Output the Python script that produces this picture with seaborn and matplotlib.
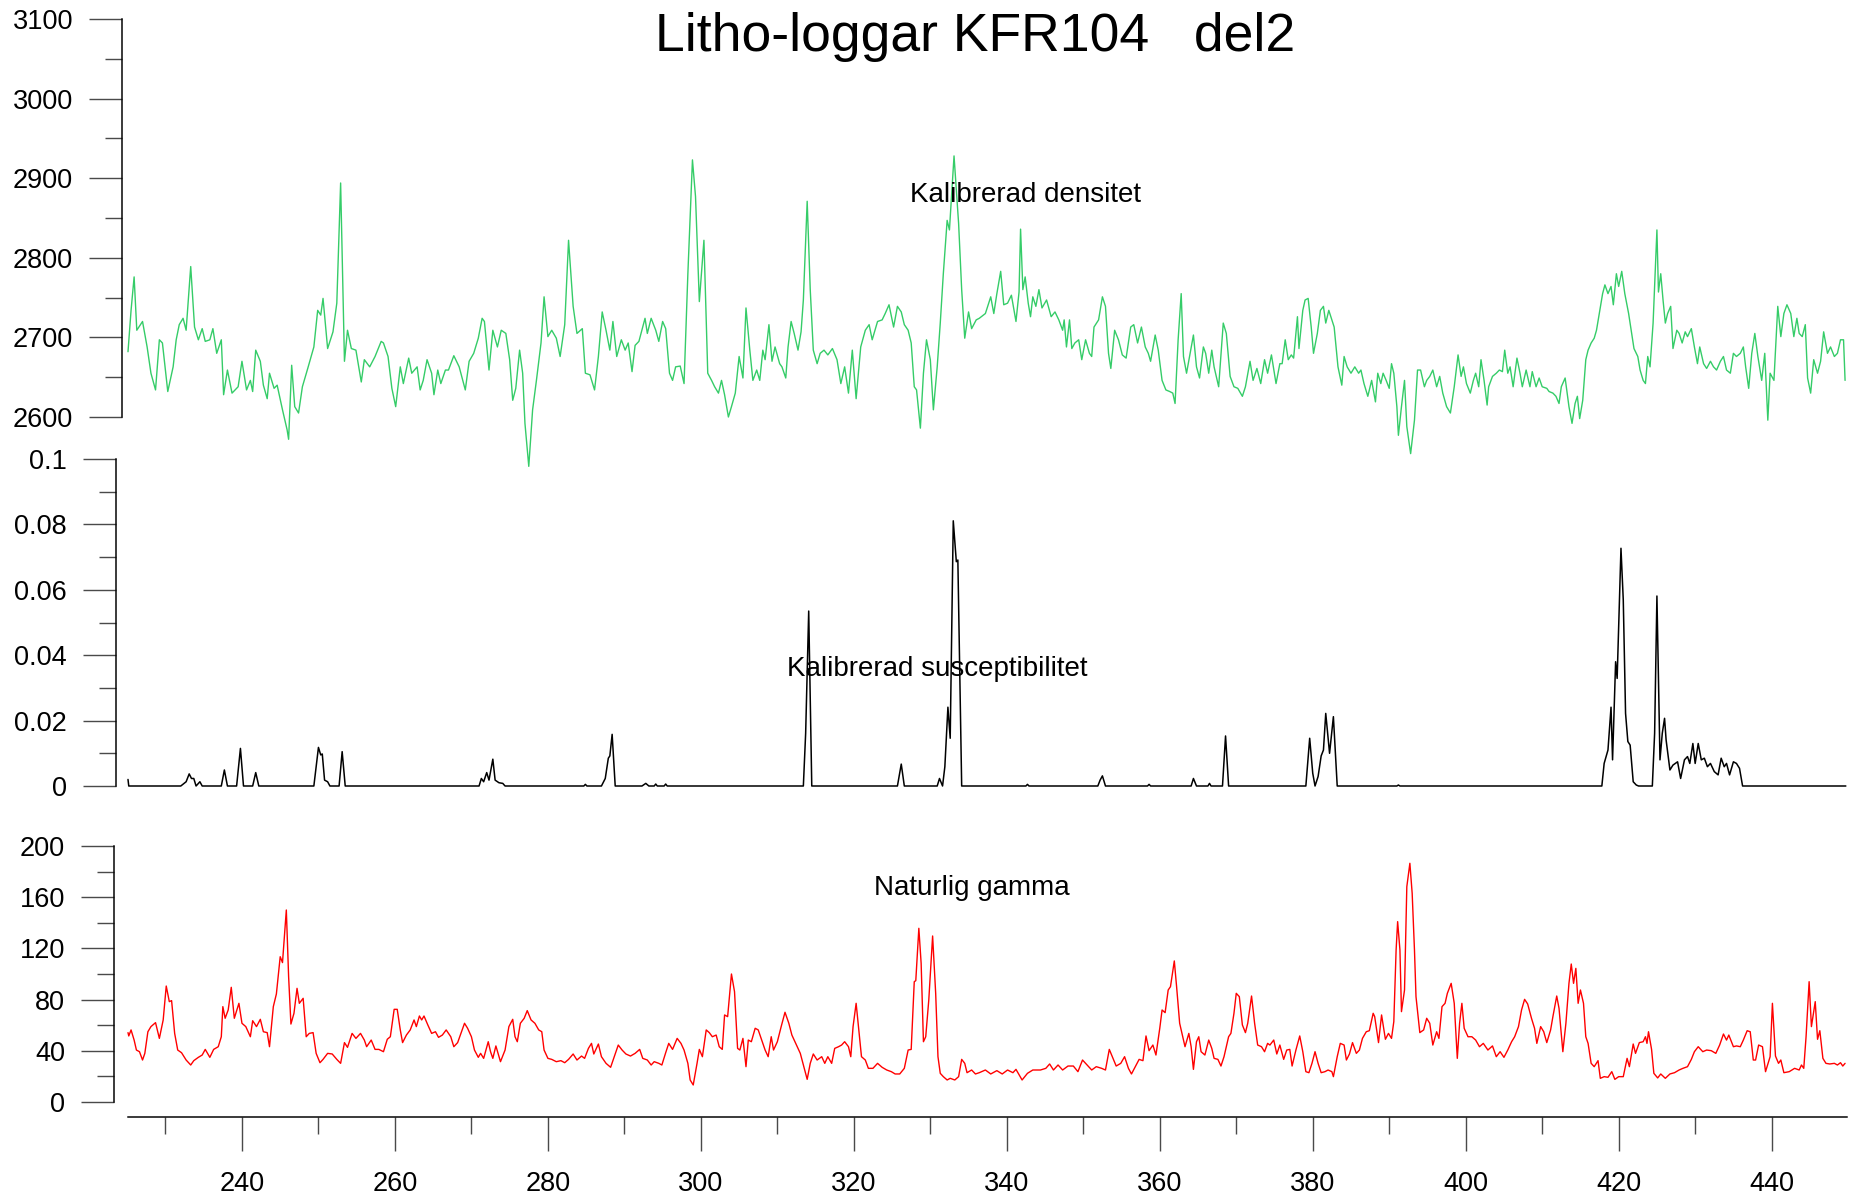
import matplotlib
matplotlib.use("Agg")
import matplotlib.pyplot as plt
from matplotlib import font_manager
import seaborn as sns
import pandas as pd
from matplotlib.ticker import FixedLocator

# ---------------------------------------------------------------- data
dens_depth = [
    225.1, 225.5, 225.9, 226.25, 227.0, 227.6, 228.1, 228.7, 229.2, 229.6, 230.3, 231.0, 231.4, 231.8,
    232.3, 232.7, 233.3, 233.8, 234.3, 234.8, 235.2, 235.8, 236.2, 236.7, 237.3, 237.6, 238.1, 238.7,
    239.5, 240.0, 240.6, 241.1, 241.4, 241.8, 242.4, 242.8, 243.3, 243.6, 244.2, 244.6, 245.3, 245.9,
    246.1, 246.5, 246.9, 247.4, 247.9, 248.6, 249.4, 249.9, 250.3, 250.6, 251.2, 251.9, 252.4, 252.9,
    253.4, 253.8, 254.3, 254.9, 255.6, 256.0, 256.7, 257.4, 258.2, 258.5, 259.1, 259.6, 260.1, 260.7,
    261.1, 261.8, 262.2, 262.9, 263.3, 263.7, 264.2, 264.8, 265.1, 265.6, 266.0, 266.6, 267.0, 267.7,
    268.4, 269.2, 269.7, 270.3, 270.9, 271.4, 271.7, 272.3, 272.8, 273.4, 273.9, 274.5, 275.0, 275.4,
    275.8, 276.3, 276.7, 277.0, 277.5, 278.0, 278.5, 279.1, 279.5, 280.0, 280.5, 281.1, 281.6, 282.2,
    282.7, 283.3, 283.8, 284.5, 284.9, 285.5, 286.1, 286.6, 287.1, 287.6, 288.1, 288.5, 289.0, 289.6,
    290.1, 290.5, 291.0, 291.4, 291.9, 292.7, 293.0, 293.5, 294.1, 294.5, 295.0, 295.4, 295.9, 296.3,
    296.7, 297.3, 297.8, 298.3, 298.9, 299.3, 299.8, 300.4, 300.9, 301.4, 301.8, 302.3, 302.7, 303.1,
    303.6, 304.0, 304.5, 305.0, 305.5, 305.9, 306.4, 306.8, 307.3, 307.7, 308.1, 308.4, 308.9, 309.3,
    309.7, 310.3, 310.6, 311.1, 311.4, 311.8, 312.2, 312.7, 313.1, 313.4, 313.9, 314.3, 314.7, 315.2,
    315.6, 316.1, 316.6, 317.2, 317.8, 318.3, 318.8, 319.3, 319.8, 320.3, 320.9, 321.5, 322.0, 322.4,
    323.1, 323.7, 324.1, 324.6, 325.2, 325.7, 326.2, 326.6, 327.1, 327.5, 327.9, 328.2, 328.7, 329.1,
    329.5, 330.0, 330.4, 330.9, 331.3, 331.7, 332.2, 332.5, 333.1, 333.7, 334.1, 334.5, 335.0, 335.4,
    336.0, 336.4, 337.2, 337.9, 338.3, 338.7, 339.2, 339.6, 340.1, 340.6, 341.2, 341.6, 341.8, 342.1,
    342.4, 342.8, 343.1, 343.4, 343.8, 344.2, 344.6, 345.2, 345.8, 346.3, 346.8, 347.3, 347.5, 347.8,
    348.2, 348.5, 348.9, 349.4, 349.8, 350.3, 350.8, 351.1, 351.4, 352.0, 352.5, 352.9, 353.3, 353.6,
    354.1, 354.6, 355.1, 355.6, 356.2, 356.6, 357.1, 357.6, 358.1, 358.5, 358.8, 359.4, 359.8, 360.3,
    360.8, 361.3, 361.7, 362.0, 362.4, 362.8, 363.1, 363.5, 363.9, 364.4, 364.8, 365.2, 365.7, 366.0,
    366.4, 366.8, 367.1, 367.7, 368.3, 368.7, 369.2, 369.7, 370.2, 370.8, 371.2, 371.8, 372.2, 372.7,
    373.2, 373.7, 374.1, 374.6, 375.2, 375.7, 376.0, 376.4, 376.8, 377.2, 377.5, 378.0, 378.2, 378.7,
    379.0, 379.4, 379.8, 380.1, 380.6, 381.0, 381.4, 381.7, 382.1, 382.5, 382.8, 383.3, 383.8, 384.1,
    384.5, 385.0, 385.5, 386.0, 386.3, 386.7, 387.2, 387.7, 388.2, 388.5, 388.9, 389.2, 389.6, 390.0,
    390.3, 390.6, 391.0, 391.2, 391.6, 392.0, 392.3, 392.8, 393.3, 393.7, 394.1, 394.6, 394.9, 395.3,
    395.7, 396.2, 396.6, 397.0, 397.5, 398.0, 398.5, 399.0, 399.4, 399.7, 400.1, 400.6, 401.0, 401.3,
    401.7, 402.0, 402.4, 402.8, 403.0, 403.5, 404.0, 404.4, 404.8, 405.1, 405.5, 405.8, 406.2, 406.7,
    407.1, 407.4, 407.9, 408.4, 408.7, 409.2, 409.6, 410.0, 410.6, 410.9, 411.4, 411.8, 412.2, 412.5,
    413.0, 413.5, 413.9, 414.3, 414.6, 414.9, 415.3, 415.7, 416.0, 416.4, 416.8, 417.1, 417.5, 417.9,
    418.2, 418.6, 419.0, 419.3, 419.7, 420.0, 420.4, 420.8, 421.3, 421.7, 422.0, 422.5, 422.8, 423.2,
    423.5, 423.8, 424.1, 424.5, 425.0, 425.2, 425.5, 425.8, 426.1, 426.4, 426.8, 427.1, 427.6, 427.9,
    428.3, 428.7, 429.0, 429.5, 429.9, 430.3, 430.6, 431.1, 431.5, 432.0, 432.4, 432.8, 433.3, 433.7,
    434.1, 434.6, 435.0, 435.4, 435.9, 436.3, 436.6, 437.0, 437.4, 437.8, 438.2, 438.7, 439.1, 439.5,
    439.8, 440.3, 440.8, 441.2, 441.6, 442.0, 442.5, 442.9, 443.3, 443.6, 444.0, 444.4, 444.7, 445.1,
    445.5, 446.0, 446.4, 446.8, 447.3, 447.7, 448.2, 448.6, 449.0, 449.4, 449.6,
]
dens_value = [
    2682, 2734, 2776, 2709, 2720, 2688, 2655, 2634, 2697, 2693, 2632, 2663, 2697, 2716,
    2724, 2709, 2789, 2713, 2697, 2711, 2695, 2697, 2711, 2680, 2697, 2628, 2659, 2630,
    2638, 2670, 2634, 2646, 2632, 2684, 2670, 2640, 2623, 2655, 2636, 2640, 2609, 2584,
    2572, 2665, 2613, 2605, 2638, 2661, 2688, 2734, 2728, 2749, 2686, 2707, 2743, 2894,
    2670, 2709, 2686, 2684, 2644, 2672, 2663, 2676, 2695, 2693, 2676, 2636, 2613, 2663,
    2642, 2674, 2655, 2663, 2634, 2646, 2672, 2655, 2628, 2659, 2642, 2659, 2659, 2677,
    2663, 2634, 2670, 2680, 2699, 2724, 2720, 2659, 2709, 2688, 2709, 2705, 2672, 2621,
    2636, 2684, 2655, 2592, 2538, 2609, 2646, 2693, 2751, 2701, 2709, 2699, 2676, 2716,
    2822, 2739, 2705, 2711, 2655, 2653, 2634, 2676, 2732, 2709, 2684, 2720, 2676, 2697,
    2684, 2693, 2657, 2690, 2695, 2724, 2705, 2724, 2709, 2695, 2720, 2711, 2655, 2646,
    2663, 2664, 2642, 2780, 2923, 2877, 2745, 2822, 2655, 2646, 2638, 2630, 2646, 2628,
    2600, 2613, 2630, 2676, 2649, 2737, 2684, 2646, 2659, 2646, 2684, 2672, 2716, 2670,
    2688, 2667, 2663, 2649, 2688, 2720, 2705, 2684, 2707, 2747, 2871, 2760, 2684, 2667,
    2680, 2684, 2678, 2686, 2672, 2642, 2663, 2630, 2684, 2623, 2688, 2709, 2716, 2697,
    2720, 2722, 2730, 2741, 2713, 2739, 2732, 2716, 2709, 2693, 2638, 2634, 2586, 2655,
    2697, 2672, 2609, 2663, 2718, 2780, 2847, 2835, 2928, 2843, 2760, 2699, 2732, 2711,
    2722, 2724, 2730, 2751, 2730, 2755, 2783, 2741, 2743, 2753, 2720, 2757, 2836, 2760,
    2776, 2743, 2726, 2751, 2739, 2760, 2737, 2747, 2726, 2732, 2722, 2709, 2722, 2688,
    2722, 2686, 2693, 2697, 2672, 2697, 2680, 2676, 2713, 2722, 2751, 2739, 2680, 2661,
    2709, 2697, 2678, 2674, 2713, 2716, 2693, 2713, 2688, 2680, 2670, 2703, 2684, 2646,
    2634, 2632, 2630, 2617, 2697, 2755, 2676, 2655, 2676, 2703, 2663, 2649, 2688, 2680,
    2655, 2684, 2663, 2638, 2718, 2705, 2651, 2638, 2636, 2626, 2638, 2670, 2646, 2661,
    2642, 2672, 2655, 2678, 2642, 2667, 2667, 2697, 2672, 2678, 2674, 2726, 2686, 2734,
    2747, 2749, 2713, 2680, 2705, 2734, 2739, 2718, 2734, 2722, 2713, 2663, 2640, 2676,
    2663, 2655, 2663, 2655, 2659, 2642, 2626, 2646, 2619, 2655, 2642, 2655, 2646, 2636,
    2667, 2655, 2613, 2577, 2613, 2646, 2588, 2554, 2596, 2659, 2659, 2638, 2646, 2651,
    2659, 2638, 2651, 2630, 2613, 2605, 2638, 2678, 2651, 2663, 2642, 2630, 2646, 2655,
    2638, 2672, 2646, 2615, 2638, 2651, 2655, 2659, 2657, 2684, 2655, 2663, 2638, 2674,
    2655, 2638, 2659, 2638, 2657, 2638, 2649, 2638, 2636, 2632, 2630, 2626, 2617, 2638,
    2649, 2613, 2592, 2617, 2626, 2598, 2621, 2672, 2684, 2693, 2699, 2709, 2732, 2755,
    2766, 2755, 2764, 2741, 2780, 2764, 2783, 2755, 2730, 2705, 2686, 2676, 2659, 2646,
    2642, 2676, 2663, 2718, 2835, 2757, 2780, 2747, 2718, 2730, 2739, 2686, 2709, 2705,
    2693, 2707, 2701, 2711, 2688, 2667, 2688, 2667, 2661, 2670, 2663, 2659, 2670, 2676,
    2659, 2655, 2680, 2676, 2680, 2688, 2663, 2636, 2680, 2705, 2676, 2646, 2680, 2596,
    2655, 2646, 2739, 2701, 2730, 2741, 2730, 2701, 2724, 2705, 2701, 2716, 2649, 2630,
    2672, 2655, 2670, 2707, 2680, 2688, 2676, 2680, 2697, 2697, 2646,
]

susc_depth = [
    225.1, 225.2, 232.0, 232.7, 233.1, 233.4, 233.7, 234.0, 234.5, 234.8, 237.3, 237.7, 238.1,
    239.3, 239.8, 240.2, 241.4, 241.8, 242.2, 249.4, 249.7, 250.0, 250.3, 250.5, 250.8, 251.2,
    251.5, 252.7, 253.1, 253.5, 271.0, 271.3, 271.6, 272.0, 272.3, 272.8, 273.1, 273.6, 274.1,
    274.4, 284.7, 284.9, 285.1, 287.0, 287.5, 287.9, 288.1, 288.4, 288.8, 292.3, 292.8, 293.2,
    293.9, 294.1, 294.3, 295.2, 295.4, 295.6, 313.4, 313.7, 314.1, 314.3, 314.5, 325.7, 326.2,
    326.6, 330.9, 331.2, 331.6, 331.9, 332.3, 332.6, 333.0, 333.4, 333.6, 334.1, 342.5, 342.7,
    342.9, 351.9, 352.2, 352.5, 352.9, 358.4, 358.6, 358.8, 364.1, 364.4, 364.8, 366.3, 366.5,
    366.7, 368.2, 368.6, 369.0, 379.1, 379.6, 380.0, 380.3, 380.7, 381.1, 381.4, 381.7, 382.2,
    382.7, 383.2, 391.0, 391.2, 391.4, 417.8, 418.1, 418.6, 419.0, 419.2, 419.6, 419.8, 420.3,
    420.6, 420.9, 421.2, 421.5, 421.9, 422.3, 422.6, 424.4, 424.7, 425.0, 425.4, 425.7, 426.0,
    426.2, 426.7, 427.1, 427.7, 428.1, 428.6, 429.0, 429.3, 429.7, 430.0, 430.4, 430.8, 431.2,
    431.6, 432.0, 432.5, 433.0, 433.4, 433.8, 434.1, 434.5, 435.0, 435.4, 435.8, 436.2, 449.7,
]
susc_value = [
    0.002, 0.0, 0.0, 0.0013, 0.0037, 0.0023, 0.0023, 0.0, 0.0013, 0.0, 0.0, 0.0049, 0.0,
    0.0, 0.0115, 0.0, 0.0, 0.0041, 0.0, 0.0, 0.0059, 0.0118, 0.0095, 0.0098, 0.0018, 0.0013,
    0.0, 0.0, 0.0105, 0.0, 0.0, 0.0023, 0.0013, 0.0041, 0.0018, 0.0082, 0.0018, 0.001, 0.0008,
    0.0, 0.0, 0.0005, 0.0, 0.0, 0.0023, 0.0085, 0.0092, 0.0158, 0.0, 0.0, 0.0008, 0.0,
    0.0, 0.0006, 0.0, 0.0, 0.0006, 0.0, 0.0, 0.0161, 0.0535, 0.0263, 0.0, 0.0, 0.0067,
    0.0, 0.0, 0.0023, 0.0, 0.0059, 0.0241, 0.0146, 0.0811, 0.0686, 0.0691, 0.0, 0.0, 0.0005,
    0.0, 0.0, 0.0018, 0.0031, 0.0, 0.0, 0.0005, 0.0, 0.0, 0.0023, 0.0, 0.0, 0.0008,
    0.0, 0.0, 0.0153, 0.0, 0.0, 0.0146, 0.0039, 0.0, 0.0029, 0.0092, 0.011, 0.0222, 0.010,
    0.0212, 0.0, 0.0, 0.0003, 0.0, 0.0, 0.0069, 0.011, 0.0241, 0.008, 0.038, 0.0329, 0.0727,
    0.0569, 0.0222, 0.0136, 0.0125, 0.0013, 0.0003, 0.0, 0.0, 0.0161, 0.0581, 0.008, 0.0161, 0.0207,
    0.0141, 0.0049, 0.0064, 0.0074, 0.0023, 0.008, 0.009, 0.0069, 0.013, 0.0069, 0.013, 0.008, 0.0085,
    0.0059, 0.0069, 0.0044, 0.0034, 0.0085, 0.0059, 0.0069, 0.0034, 0.0074, 0.0069, 0.0054, 0.0, 0.0,
]

gamma_depth = [
    225.1, 225.2, 225.5, 225.9, 226.2, 226.6, 227.0, 227.3, 227.7, 228.1, 228.7, 229.2, 229.7, 230.1,
    230.5, 230.8, 231.2, 231.6, 232.1, 232.7, 233.3, 233.7, 234.3, 234.8, 235.2, 235.8, 236.3, 236.9,
    237.3, 237.5, 237.8, 238.2, 238.6, 239.0, 239.6, 240.0, 240.5, 241.1, 241.4, 241.9, 242.4, 242.8,
    243.3, 243.6, 244.1, 244.5, 245.0, 245.3, 245.8, 246.1, 246.4, 246.8, 247.2, 247.5, 248.0, 248.4,
    248.8, 249.3, 249.7, 250.2, 250.6, 251.2, 251.8, 252.4, 252.9, 253.4, 253.8, 254.4, 254.9, 255.5,
    256.0, 256.3, 256.9, 257.4, 257.9, 258.5, 259.0, 259.4, 259.9, 260.3, 260.7, 261.0, 261.5, 262.0,
    262.5, 262.8, 263.2, 263.5, 263.8, 264.3, 264.8, 265.3, 265.7, 266.2, 266.7, 267.3, 267.7, 268.2,
    268.7, 269.1, 269.5, 270.0, 270.4, 270.9, 271.2, 271.6, 272.2, 272.5, 272.8, 273.2, 273.8, 274.4,
    274.9, 275.4, 275.7, 276.0, 276.4, 276.9, 277.3, 277.8, 278.3, 278.8, 279.2, 279.5, 280.0, 280.5,
    281.1, 281.7, 282.2, 282.7, 283.3, 283.8, 284.4, 284.8, 285.3, 285.7, 286.0, 286.6, 287.0, 287.6,
    288.2, 288.6, 289.2, 289.7, 290.2, 290.8, 291.4, 292.0, 292.4, 293.0, 293.5, 293.9, 294.5, 294.9,
    295.4, 295.8, 296.3, 296.9, 297.4, 297.8, 298.3, 298.6, 299.0, 299.5, 299.8, 300.2, 300.7, 301.1,
    301.5, 302.0, 302.4, 302.8, 303.1, 303.5, 304.0, 304.4, 304.8, 305.1, 305.5, 305.9, 306.2, 306.6,
    307.1, 307.5, 308.1, 308.4, 308.8, 309.2, 309.5, 310.0, 310.5, 311.0, 311.5, 311.9, 312.5, 313.0,
    313.4, 313.9, 314.3, 314.7, 315.2, 315.8, 316.2, 316.6, 317.1, 317.5, 318.0, 318.4, 318.8, 319.3,
    319.6, 319.9, 320.3, 320.7, 321.0, 321.5, 321.9, 322.5, 323.1, 323.7, 324.3, 324.9, 325.4, 326.0,
    326.6, 327.1, 327.5, 327.9, 328.1, 328.5, 328.8, 329.1, 329.4, 329.8, 330.3, 330.7, 331.0, 331.3,
    331.7, 332.2, 332.6, 333.2, 333.7, 334.1, 334.5, 334.8, 335.4, 335.9, 336.4, 337.2, 337.9, 338.7,
    339.4, 340.1, 340.8, 341.2, 342.0, 342.7, 343.4, 344.4, 345.1, 345.6, 346.1, 346.7, 347.3, 348.0,
    348.7, 349.3, 349.9, 350.5, 351.1, 351.7, 352.4, 352.9, 353.4, 353.8, 354.3, 354.9, 355.4, 355.9,
    356.3, 356.8, 357.3, 357.8, 358.2, 358.6, 359.1, 359.5, 360.0, 360.3, 360.7, 361.1, 361.4, 361.9,
    362.2, 362.6, 363.0, 363.3, 363.8, 364.1, 364.4, 364.8, 365.1, 365.4, 365.9, 366.4, 366.8, 367.1,
    367.6, 368.0, 368.4, 369.0, 369.3, 369.7, 370.0, 370.4, 370.8, 371.2, 371.5, 372.0, 372.4, 372.8,
    373.3, 373.7, 374.1, 374.4, 374.9, 375.3, 375.7, 376.2, 376.6, 377.0, 377.3, 377.8, 378.3, 378.7,
    379.1, 379.5, 379.9, 380.3, 380.7, 381.1, 381.6, 382.0, 382.5, 382.7, 383.2, 383.6, 384.1, 384.4,
    384.8, 385.2, 385.7, 386.1, 386.5, 387.0, 387.4, 387.9, 388.1, 388.6, 389.0, 389.5, 389.9, 390.3,
    390.6, 390.9, 391.1, 391.4, 391.6, 392.0, 392.3, 392.7, 393.0, 393.3, 393.5, 394.0, 394.5, 394.9,
    395.3, 395.7, 396.2, 396.5, 396.9, 397.3, 397.6, 398.1, 398.5, 398.9, 399.2, 399.5, 399.8, 400.3,
    400.8, 401.3, 401.8, 402.3, 402.9, 403.5, 404.0, 404.5, 405.0, 405.5, 406.0, 406.4, 406.9, 407.3,
    407.7, 408.1, 408.6, 409.0, 409.3, 409.8, 410.2, 410.6, 411.1, 411.4, 411.9, 412.2, 412.7, 413.1,
    413.5, 413.8, 414.1, 414.4, 414.7, 415.0, 415.4, 415.7, 416.0, 416.4, 416.8, 417.3, 417.6, 418.1,
    418.6, 419.1, 419.5, 420.0, 420.6, 421.1, 421.4, 421.9, 422.2, 422.7, 423.2, 423.5, 423.7, 423.9,
    424.3, 424.6, 425.1, 425.5, 426.1, 426.7, 427.3, 427.9, 428.4, 429.0, 429.5, 429.9, 430.4, 431.0,
    431.5, 432.1, 432.7, 433.2, 433.7, 434.1, 434.4, 435.0, 435.4, 435.9, 436.3, 436.8, 437.2, 437.6,
    437.9, 438.3, 438.8, 439.2, 439.8, 440.1, 440.5, 440.9, 441.2, 441.6, 442.3, 443.0, 443.6, 443.9,
    444.2, 444.5, 444.9, 445.2, 445.7, 446.0, 446.3, 446.7, 447.1, 447.6, 448.2, 448.6, 449.0, 449.3,
    449.6,
]
gamma_value = [
    54.2, 51.6, 56.3, 48.4, 40.6, 39.3, 32.8, 38.0, 54.9, 58.9, 62.0, 49.7, 64.1, 90.6,
    78.4, 79.2, 53.6, 40.6, 38.5, 32.8, 28.9, 32.3, 34.9, 36.7, 41.1, 34.9, 41.1, 43.2,
    51.0, 74.5, 65.4, 71.9, 89.6, 65.4, 77.1, 61.5, 58.9, 51.0, 63.5, 58.9, 64.6, 54.9,
    54.2, 43.2, 74.5, 84.4, 113.5, 108.9, 150.0, 97.9, 60.9, 69.3, 88.8, 77.1, 81.0, 51.0,
    53.6, 54.2, 38.0, 30.7, 33.3, 38.0, 37.5, 33.3, 30.2, 46.4, 42.7, 53.6, 49.7, 53.6,
    48.4, 43.2, 48.4, 41.1, 41.1, 39.3, 49.0, 51.0, 72.4, 72.4, 56.3, 46.4, 52.3, 56.3,
    64.1, 58.9, 67.2, 64.1, 67.2, 60.2, 53.6, 54.9, 50.5, 52.3, 56.3, 51.0, 43.2, 46.4,
    54.9, 61.5, 57.6, 51.0, 40.6, 34.9, 38.0, 34.1, 47.1, 39.3, 34.1, 43.8, 31.5, 40.6,
    58.9, 64.6, 51.0, 47.1, 61.5, 65.4, 71.4, 64.1, 61.5, 56.3, 54.9, 40.6, 34.1, 33.3,
    31.5, 32.3, 30.7, 33.3, 37.5, 32.8, 35.9, 34.1, 41.9, 45.8, 37.5, 45.3, 35.4, 30.2,
    27.1, 34.1, 44.5, 40.6, 37.5, 35.9, 38.0, 41.1, 34.1, 32.8, 28.9, 31.5, 30.2, 28.9,
    38.5, 45.8, 41.1, 49.7, 45.8, 40.6, 30.2, 17.2, 13.3, 30.2, 41.1, 35.4, 56.3, 54.2,
    51.0, 52.3, 43.2, 41.1, 68.0, 66.7, 100.0, 86.2, 41.9, 40.6, 49.7, 27.6, 48.4, 47.1,
    57.6, 56.3, 45.8, 40.6, 35.4, 51.0, 40.6, 47.1, 58.9, 70.1, 61.5, 52.3, 44.5, 38.0,
    28.9, 17.7, 30.2, 37.5, 32.8, 35.4, 30.2, 35.4, 30.2, 41.9, 43.2, 44.5, 47.1, 43.2,
    35.4, 58.9, 77.1, 53.6, 35.4, 32.8, 26.3, 26.3, 30.2, 27.1, 25.0, 23.7, 21.9, 21.9,
    26.3, 40.6, 41.1, 94.0, 94.8, 135.7, 108.3, 47.1, 51.0, 79.7, 129.7, 84.9, 35.4, 22.4,
    19.8, 17.2, 18.5, 17.2, 19.8, 33.3, 30.2, 22.9, 25.0, 21.9, 22.9, 25.0, 21.9, 24.5,
    21.9, 25.0, 22.9, 25.5, 17.2, 22.4, 25.0, 25.0, 26.3, 29.7, 25.0, 28.9, 25.0, 28.1,
    28.1, 23.7, 32.8, 28.9, 25.0, 27.6, 26.3, 25.0, 41.1, 35.4, 28.1, 30.2, 35.4, 26.3,
    21.9, 27.6, 33.3, 32.3, 51.6, 40.1, 44.5, 36.7, 57.6, 71.9, 69.8, 87.5, 90.1, 110.2,
    90.1, 61.5, 51.0, 43.2, 53.6, 43.2, 25.5, 47.1, 51.0, 39.3, 36.7, 48.4, 41.9, 34.1,
    33.3, 28.1, 35.4, 51.0, 53.6, 69.3, 84.9, 82.3, 60.2, 54.2, 61.5, 82.8, 61.5, 44.5,
    43.2, 39.3, 45.8, 44.5, 48.4, 37.5, 44.5, 33.3, 40.6, 41.1, 28.1, 40.6, 51.6, 39.3,
    23.7, 22.9, 30.2, 39.3, 30.2, 22.9, 23.7, 25.0, 23.7, 19.8, 35.4, 45.8, 44.5, 32.8,
    37.5, 46.4, 38.0, 40.6, 49.7, 54.9, 55.7, 69.3, 66.7, 46.4, 68.0, 49.0, 53.6, 49.7,
    62.8, 118.8, 140.9, 118.8, 70.6, 87.5, 168.2, 186.5, 163.0, 118.8, 82.3, 54.2, 56.3, 65.4,
    61.5, 44.5, 54.9, 49.7, 74.5, 77.1, 84.9, 92.7, 77.1, 34.1, 61.5, 77.1, 57.6, 51.0,
    51.0, 48.4, 43.2, 45.8, 40.6, 43.8, 35.4, 39.3, 34.9, 40.6, 47.1, 51.0, 58.9, 71.9,
    80.2, 76.6, 65.4, 57.6, 45.8, 58.9, 54.9, 46.4, 56.3, 66.7, 82.8, 73.2, 39.3, 61.5,
    92.7, 107.8, 92.7, 104.4, 77.1, 87.5, 77.1, 51.0, 45.8, 30.2, 27.6, 32.3, 18.5, 19.8,
    19.3, 23.7, 17.7, 19.8, 19.8, 34.1, 27.6, 45.3, 38.0, 46.4, 47.1, 51.0, 45.8, 54.9,
    41.1, 22.4, 18.8, 21.9, 18.5, 21.9, 22.9, 25.0, 26.3, 27.6, 33.3, 39.3, 43.2, 39.3,
    40.6, 40.1, 38.0, 44.5, 53.1, 48.4, 52.3, 43.2, 43.8, 43.2, 48.4, 55.7, 54.9, 32.8,
    32.8, 44.5, 43.2, 23.7, 35.4, 77.1, 35.9, 30.2, 32.8, 22.9, 23.7, 26.3, 25.0, 28.9,
    26.3, 51.0, 94.0, 58.9, 78.4, 49.0, 55.7, 34.1, 30.2, 29.7, 30.2, 28.9, 30.7, 28.1,
    30.2,
]

title_text = "Litho-loggar KFR104   del2"
dens_label = "Kalibrerad densitet"
susc_label = "Kalibrerad susceptibilitet"
gamma_label = "Naturlig gamma"

dens_ticks = [2600, 2700, 2800, 2900, 3000, 3100]
dens_minor = [2650, 2750, 2850, 2950, 3050]
susc_ticks = [0.0, 0.02, 0.04, 0.06, 0.08, 0.1]
susc_ticklabels = ["0", "0.02", "0.04", "0.06", "0.08", "0.1"]
susc_minor = [0.01, 0.03, 0.05, 0.07, 0.09]
gamma_ticks = [0, 40, 80, 120, 160, 200]
gamma_minor = [20, 60, 100, 140, 180]
depth_ticks = [240, 260, 280, 300, 320, 340, 360, 380, 400, 420, 440]
depth_minor = [230, 250, 270, 290, 310, 330, 350, 370, 390, 410, 430]

# ---------------------------------------------------------------- style
sns.set_theme(style="white")
plt.rcParams["font.family"] = ["Liberation Sans", "DejaVu Sans"]

installed = {f.name for f in font_manager.fontManager.ttflist}
if "Liberation Sans Narrow" in installed:
    title_family, title_size = ["Liberation Sans Narrow", "DejaVu Sans"], 46.5
else:
    title_family, title_size = ["Liberation Sans", "DejaVu Sans"], 38.5

W, H = 1856, 1202
DPI = 100
PX = 72.0 / DPI          # points per pixel

fig = plt.figure(figsize=(W / DPI, H / DPI), dpi=DPI, facecolor="white")


def add_panel(top, bottom, left=128, right=1846.6):
    return fig.add_axes([left / W, (H - bottom) / H, (right - left) / W, (bottom - top) / H])


ax_d = add_panel(19, 417)
ax_s = add_panel(459, 786)
ax_g = add_panel(846, 1102)

XLIM = (225.1, 449.8)

df_d = pd.DataFrame({"depth": dens_depth, "value": dens_value})
df_s = pd.DataFrame({"depth": susc_depth, "value": susc_value})
df_g = pd.DataFrame({"depth": gamma_depth, "value": gamma_value})

sns.lineplot(data=df_d, x="depth", y="value", ax=ax_d, color="#35cc68",
             linewidth=1.0, estimator=None, sort=False)
sns.lineplot(data=df_s, x="depth", y="value", ax=ax_s, color="black",
             linewidth=1.1, estimator=None, sort=False)
sns.lineplot(data=df_g, x="depth", y="value", ax=ax_g, color="#ff0000",
             linewidth=1.0, estimator=None, sort=False)

tick_font = 19.5
spine_lw = 1.5 * PX
tick_lw = 1.4 * PX
tick_col = "#4a4a4a"

panels = [
    (ax_d, (2600, 3100), dens_ticks, None, dens_minor, 128 - 122),
    (ax_s, (0, 0.1), susc_ticks, susc_ticklabels, susc_minor, 128 - 116),
    (ax_g, (0, 200), gamma_ticks, None, gamma_minor, 128 - 114),
]

for ax, ylim, ticks, labels, minor, offset in panels:
    ax.set_facecolor("none")
    ax.set_xlim(*XLIM)
    ax.set_ylim(*ylim)
    for ln in ax.lines:
        ln.set_clip_on(False)
    ax.set_xlabel("")
    ax.set_ylabel("")
    for side in ("top", "right", "bottom"):
        ax.spines[side].set_visible(False)
    ax.spines["left"].set_position(("outward", offset * PX))
    ax.spines["left"].set_color("black")
    ax.spines["left"].set_linewidth(spine_lw)
    if labels is not None:
        ax.set_yticks(ticks, labels)
    else:
        ax.set_yticks(ticks, [str(t) for t in ticks])
    ax.yaxis.set_minor_locator(FixedLocator(minor))
    ax.tick_params(axis="y", which="major", direction="out", length=33 * PX,
                   width=tick_lw, color=tick_col, labelsize=tick_font,
                   pad=16 * PX, left=True, labelcolor="black")
    ax.tick_params(axis="y", which="minor", direction="out", length=17 * PX,
                   width=tick_lw, color=tick_col, left=True)
    ax.tick_params(axis="x", which="both", bottom=False, labelbottom=False)
    ax.grid(False)

# shared depth axis under the gamma panel
ax_g.spines["bottom"].set_visible(True)
ax_g.spines["bottom"].set_position(("outward", 15 * PX))
ax_g.spines["bottom"].set_color("black")
ax_g.spines["bottom"].set_linewidth(spine_lw)
ax_g.set_xticks(depth_ticks, [str(t) for t in depth_ticks])
ax_g.xaxis.set_minor_locator(FixedLocator(depth_minor))
ax_g.tick_params(axis="x", which="major", bottom=True, labelbottom=True, direction="out",
                 length=34 * PX, width=tick_lw, color=tick_col, labelsize=tick_font,
                 pad=20 * PX, labelcolor="black")
ax_g.tick_params(axis="x", which="minor", bottom=True, direction="out",
                 length=17 * PX, width=tick_lw, color=tick_col)

# titles and panel captions
fig.text(975 / W, 1 - 51 / H, title_text, ha="center", va="baseline",
         fontsize=title_size, family=title_family, color="black")
fig.text(1026 / W, 1 - 202 / H, dens_label, ha="center", va="baseline",
         fontsize=20, color="black")
fig.text(937.5 / W, 1 - 676 / H, susc_label, ha="center", va="baseline",
         fontsize=20, color="black")
fig.text(972 / W, 1 - 895 / H, gamma_label, ha="center", va="baseline",
         fontsize=20, color="black")

fig.savefig("out.png", dpi=DPI, facecolor="white")
